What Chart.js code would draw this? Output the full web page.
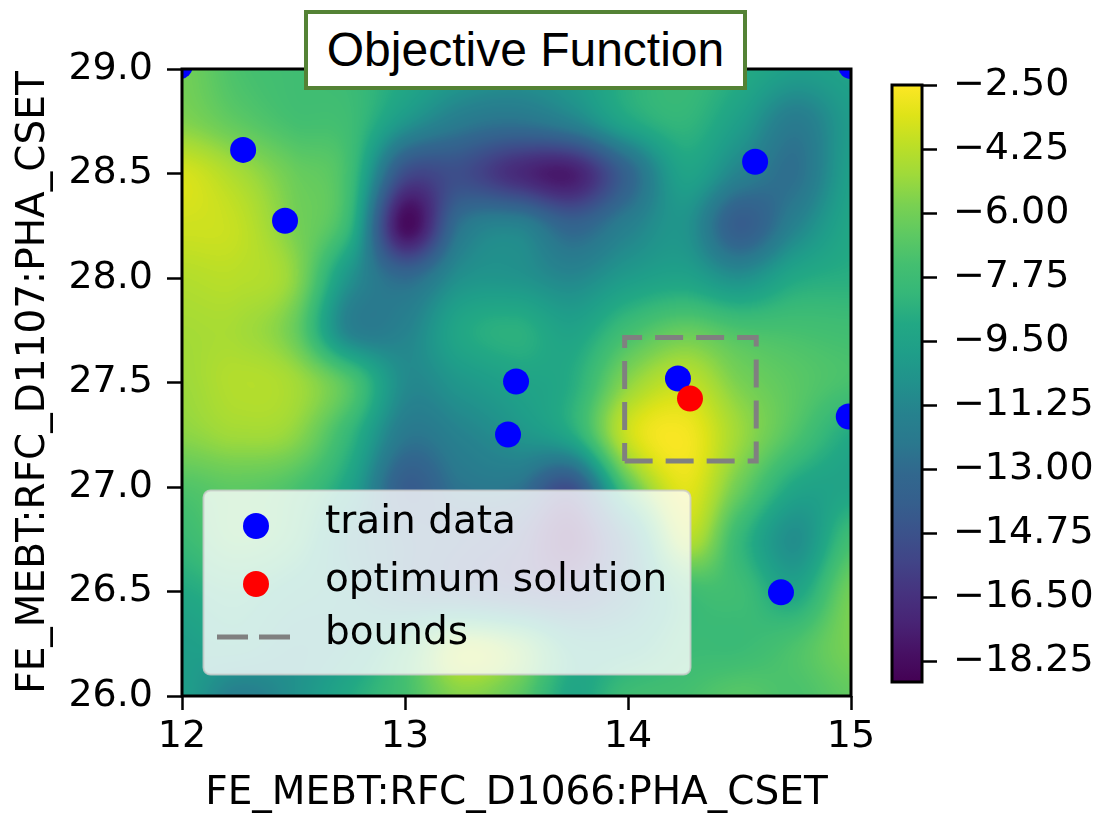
<!DOCTYPE html>
<html>
<head>
<meta charset="utf-8">
<title>Objective Function</title>
<script src="https://cdn.jsdelivr.net/npm/chart.js@4.4.1/dist/chart.umd.min.js"></script>
<style>
  html, body { margin: 0; padding: 0; background: #ffffff; overflow: hidden; }
  #wrap { position: relative; width: 1097px; height: 817px; background: #ffffff; overflow: hidden; }
  #wrap canvas { position: absolute; left: 0; top: 0; }
  #title {
    position: absolute; left: 304px; top: 10px; width: 435px; height: 72px;
    border: 4px solid #548235; background: #ffffff; color: #000000;
    font-family: "Liberation Sans", Arial, sans-serif; font-size: 48px;
    line-height: 72px; text-align: center; white-space: nowrap;
  }
</style>
</head>
<body>
<div id="wrap">
  <canvas id="plot" width="1097" height="817"></canvas>
  <canvas id="cbar" width="1097" height="817"></canvas>
  <div id="title">Objective Function</div>
</div>
<script>
// ---- axis ticks and labels ----
const xTickValues = [12, 13, 14, 15];
const yTickValues = [26.0, 26.5, 27.0, 27.5, 28.0, 28.5, 29.0];
const xTitle = 'FE_MEBT:RFC_D1066:PHA_CSET';
const yTitle = 'FE_MEBT:RFC_D1107:PHA_CSET';

// ---- colour bar range and ticks ----
const cbMin = -18.82;
const cbMax = -2.50;
const cbTickValues = [-2.50, -4.25, -6.00, -7.75, -9.50, -11.25, -13.00, -14.75, -16.50, -18.25];

// ---- samples ----
const trainX = [11.99, 15.00, 12.274, 12.462, 14.570, 13.498, 13.462, 14.224, 14.99, 14.686];
const trainY = [29.014, 29.014, 28.613, 28.274, 28.556, 27.505, 27.251, 27.519, 27.337, 26.496];
const optX = [14.278];
const optY = [27.423];
const boundsX = [13.985, 14.575];
const boundsY = [27.125, 27.715];

// ---- objective function surface on a regular grid (rows from top y=29 to bottom y=26) ----
const fieldX = [12.0, 12.25, 12.5, 12.75, 13.0, 13.25, 13.5, 13.75, 14.0, 14.25, 14.5, 14.75, 15.0];
const fieldY = [29.0, 28.75, 28.5, 28.25, 28.0, 27.75, 27.5, 27.25, 27.0, 26.75, 26.5, 26.25, 26.0];
const fieldZ = [
  [-6.0, -7.2, -7.6, -7.9, -9.0, -10.0, -10.5, -10.0, -8.6, -8.0, -8.8, -9.8, -9.5],
  [-5.6, -6.6, -7.4, -7.7, -10.3, -12.0, -12.5, -11.5, -9.2, -8.3, -9.8, -12.0, -10.0],
  [-3.5, -4.7, -6.2, -7.6, -15.0, -15.0, -16.8, -17.5, -13.5, -9.5, -11.5, -12.7, -9.7],
  [-3.7, -4.0, -5.8, -8.2, -18.3, -12.5, -11.5, -13.5, -11.7, -10.5, -14.0, -11.5, -9.2],
  [-4.4, -4.3, -5.3, -10.5, -13.0, -10.7, -10.5, -11.2, -10.0, -9.5, -10.7, -9.1, -8.7],
  [-4.8, -4.8, -6.2, -11.5, -11.5, -9.2, -8.6, -9.5, -7.6, -6.4, -7.2, -7.4, -7.6],
  [-5.0, -4.4, -4.8, -7.0, -11.0, -10.3, -9.5, -8.8, -5.4, -4.0, -5.8, -6.7, -7.3],
  [-5.4, -4.9, -5.3, -8.2, -12.2, -11.5, -10.5, -9.0, -3.8, -2.7, -5.0, -7.1, -9.0],
  [-7.0, -6.6, -7.2, -9.5, -14.0, -12.5, -12.5, -14.8, -7.0, -3.2, -6.2, -9.2, -9.4],
  [-7.9, -6.8, -7.8, -11.0, -13.0, -14.0, -15.0, -17.5, -12.0, -4.5, -8.1, -10.8, -7.6],
  [-9.0, -8.5, -9.5, -10.5, -12.5, -13.5, -14.5, -15.0, -12.0, -8.0, -7.7, -9.3, -6.0],
  [-9.8, -9.5, -10.5, -10.0, -8.0, -4.8, -6.0, -9.5, -9.5, -8.0, -7.9, -7.2, -5.8],
  [-9.8, -11.7, -10.7, -9.0, -7.4, -5.5, -6.5, -9.2, -7.7, -7.4, -6.8, -7.2, -6.5]
];

// ---- viridis colour map ----
const VIRIDIS = ['#440154', '#471164', '#482475', '#46337f', '#414487', '#3b528b', '#355f8d',
  '#31688e', '#2a788e', '#26828e', '#21918c', '#1f9e89', '#22a884', '#35b779', '#44bf70',
  '#5ec962', '#7ad151', '#9fda3a', '#bddf26', '#dfe318', '#fde725'];

const LUT = (function () {
  const rgb = VIRIDIS.map(h => [parseInt(h.slice(1, 3), 16), parseInt(h.slice(3, 5), 16), parseInt(h.slice(5, 7), 16)]);
  const out = new Uint8ClampedArray(256 * 3);
  const n = rgb.length - 1;
  for (let i = 0; i < 256; i++) {
    const t = i / 255 * n;
    const k = Math.min(Math.floor(t), n - 1);
    const f = t - k;
    for (let c = 0; c < 3; c++) out[i * 3 + c] = Math.round(rgb[k][c] + (rgb[k + 1][c] - rgb[k][c]) * f);
  }
  return out;
})();

function catmull(p0, p1, p2, p3, t) {
  return p1 + 0.5 * t * (p2 - p0 + t * (2 * p0 - 5 * p1 + 4 * p2 - p3 + t * (3 * (p1 - p2) + p3 - p0)));
}

function sampleField(gx, gy) {
  const nx = fieldX.length, ny = fieldY.length;
  const cx = i => Math.max(0, Math.min(nx - 1, i));
  const cy = j => Math.max(0, Math.min(ny - 1, j));
  const ix = Math.floor(gx), iy = Math.floor(gy);
  const tx = gx - ix, ty = gy - iy;
  const col = [];
  for (let m = -1; m <= 2; m++) {
    const r = fieldZ[cy(iy + m)];
    col.push(catmull(r[cx(ix - 1)], r[cx(ix)], r[cx(ix + 1)], r[cx(ix + 2)], tx));
  }
  return catmull(col[0], col[1], col[2], col[3], ty);
}

// Shaded surface behind the markers, placed through the chart's own scales
const surfacePlugin = {
  id: 'surface',
  beforeDatasetsDraw(chart) {
    const { ctx, chartArea: a, scales } = chart;
    const xs = scales.x, ys = scales.y;
    const w = Math.round(a.right - a.left), h = Math.round(a.bottom - a.top);
    const nx = fieldX.length, ny = fieldY.length;
    const gxs = new Float64Array(w), gys = new Float64Array(h);
    for (let i = 0; i < w; i++) {
      const v = xs.getValueForPixel(a.left + i + 0.5);
      gxs[i] = (v - fieldX[0]) / (fieldX[nx - 1] - fieldX[0]) * (nx - 1);
    }
    for (let j = 0; j < h; j++) {
      const v = ys.getValueForPixel(a.top + j + 0.5);
      gys[j] = (v - fieldY[0]) / (fieldY[ny - 1] - fieldY[0]) * (ny - 1);
    }
    const off = document.createElement('canvas');
    off.width = w; off.height = h;
    const octx = off.getContext('2d');
    const img = octx.createImageData(w, h);
    const d = img.data;
    for (let j = 0; j < h; j++) {
      for (let i = 0; i < w; i++) {
        const z = sampleField(gxs[i], gys[j]);
        let t = (z - cbMin) / (cbMax - cbMin);
        t = Math.max(0, Math.min(1, t));
        const k = Math.round(t * 255) * 3;
        const p = (j * w + i) * 4;
        d[p] = LUT[k]; d[p + 1] = LUT[k + 1]; d[p + 2] = LUT[k + 2]; d[p + 3] = 255;
      }
    }
    octx.putImageData(img, 0, 0);
    ctx.save();
    ctx.drawImage(off, a.left, a.top);
    ctx.restore();
  }
};

// Black frame around the plotting area
const framePlugin = {
  id: 'frame',
  afterDraw(chart) {
    const { ctx, chartArea: a } = chart;
    ctx.save();
    ctx.strokeStyle = '#000000';
    ctx.lineWidth = 3;
    ctx.strokeRect(a.left, a.top, a.right - a.left, a.bottom - a.top);
    ctx.restore();
  }
};

// Legend box drawn inside the plotting area from the dataset styles
const insetLegend = {
  id: 'insetLegend',
  afterDatasetsDraw(chart) {
    const ctx = chart.ctx;
    const ds = chart.data.datasets;
    const box = { x: 203.5, y: 490.5, w: 487, h: 184, r: 7 };
    ctx.save();
    ctx.beginPath();
    ctx.roundRect(box.x, box.y, box.w, box.h, box.r);
    ctx.fillStyle = 'rgba(255,255,255,0.8)';
    ctx.fill();
    ctx.lineWidth = 2;
    ctx.strokeStyle = 'rgba(204,204,204,0.8)';
    ctx.stroke();

    const entries = [ds[1], ds[0], ds[2]];
    const rowY = [526, 584, 637];
    const textX = 325;
    entries.forEach((e, i) => {
      const yc = rowY[i];
      if (e.showLine) {
        ctx.beginPath();
        ctx.setLineDash([31, 11]);
        ctx.lineWidth = e.borderWidth;
        ctx.strokeStyle = e.borderColor;
        ctx.moveTo(217, yc);
        ctx.lineTo(290, yc);
        ctx.stroke();
        ctx.setLineDash([]);
      } else {
        ctx.beginPath();
        ctx.arc(256, yc, e.pointRadius, 0, Math.PI * 2);
        ctx.fillStyle = e.backgroundColor;
        ctx.fill();
      }
      ctx.fillStyle = '#000000';
      ctx.font = '39px "DejaVu Sans"';
      ctx.textAlign = 'left';
      ctx.textBaseline = 'middle';
      ctx.fillText(e.label, textX, yc - 3);
    });
    ctx.restore();
  }
};

Chart.defaults.font.family = '"DejaVu Sans", sans-serif';
Chart.defaults.color = '#000000';

const rectPath = [
  { x: boundsX[0], y: boundsY[0] },
  { x: boundsX[1], y: boundsY[0] },
  { x: boundsX[1], y: boundsY[1] },
  { x: boundsX[0], y: boundsY[1] },
  { x: boundsX[0], y: boundsY[0] }
];

new Chart(document.getElementById('plot'), {
  type: 'scatter',
  data: {
    datasets: [
      {
        label: 'optimum solution',
        data: optX.map((x, i) => ({ x, y: optY[i] })),
        backgroundColor: '#ff0000', borderColor: '#ff0000', borderWidth: 0,
        pointRadius: 13, pointHoverRadius: 13, clip: 0
      },
      {
        label: 'train data',
        data: trainX.map((x, i) => ({ x, y: trainY[i] })),
        backgroundColor: '#0000ff', borderColor: '#0000ff', borderWidth: 0,
        pointRadius: 13, pointHoverRadius: 13, clip: 0
      },
      {
        label: 'bounds',
        data: rectPath,
        showLine: true, fill: false, tension: 0,
        borderColor: '#808080', borderWidth: 5, borderDash: [28, 13],
        borderCapStyle: 'butt', borderJoinStyle: 'miter',
        pointRadius: 0, pointHoverRadius: 0, clip: 0
      }
    ]
  },
  options: {
    responsive: false,
    animation: false,
    devicePixelRatio: 1,
    events: [],
    layout: { padding: { top: 69, right: 246, left: 0, bottom: 0 } },
    plugins: { legend: { display: false }, tooltip: { enabled: false } },
    scales: {
      x: {
        type: 'linear', position: 'bottom', min: 12, max: 15,
        afterBuildTicks: s => { s.ticks = xTickValues.map(v => ({ value: v })); },
        afterFit: s => { s.height = 121; },
        ticks: { font: { size: 38 }, color: '#000000', padding: 4, maxRotation: 0, autoSkip: false, callback: v => String(v) },
        grid: { drawOnChartArea: false, drawTicks: true, tickLength: 14, tickWidth: 2.5, tickColor: '#000000' },
        border: { display: false },
        title: { display: true, text: xTitle, font: { size: 39 }, color: '#000000', padding: { top: 0, bottom: 0 } }
      },
      y: {
        type: 'linear', position: 'left', min: 26, max: 29,
        afterBuildTicks: s => { s.ticks = yTickValues.map(v => ({ value: v })); },
        afterFit: s => { s.width = 182; },
        ticks: { font: { size: 38 }, color: '#000000', padding: 14, autoSkip: false, callback: v => Number(v).toFixed(1) },
        grid: { drawOnChartArea: false, drawTicks: true, tickLength: 15, tickWidth: 2.5, tickColor: '#000000' },
        border: { display: false },
        title: { display: true, text: yTitle, font: { size: 39 }, color: '#000000', padding: { top: 10, bottom: 0 } }
      }
    }
  },
  plugins: [surfacePlugin, insetLegend, framePlugin]
});

// Colour bar: one floating bar spanning the value range, filled with the colour map
const cbarFrame = {
  id: 'cbarFrame',
  afterDraw(chart) {
    const { ctx, chartArea: a } = chart;
    ctx.save();
    ctx.strokeStyle = '#000000';
    ctx.lineWidth = 3;
    ctx.strokeRect(a.left, a.top, a.right - a.left, a.bottom - a.top);
    ctx.restore();
  }
};

new Chart(document.getElementById('cbar'), {
  type: 'bar',
  data: {
    labels: [''],
    datasets: [{
      data: [[cbMin, cbMax]],
      borderWidth: 0,
      barPercentage: 1,
      categoryPercentage: 1,
      backgroundColor: c => {
        const ch = c.chart;
        if (!ch.chartArea) return VIRIDIS[10];
        const ys = ch.scales.y;
        const g = ch.ctx.createLinearGradient(0, ys.getPixelForValue(cbMin), 0, ys.getPixelForValue(cbMax));
        VIRIDIS.forEach((col, i) => g.addColorStop(i / (VIRIDIS.length - 1), col));
        return g;
      }
    }]
  },
  options: {
    responsive: false,
    animation: false,
    devicePixelRatio: 1,
    events: [],
    layout: { padding: { left: 892, top: 85, bottom: 135, right: 0 } },
    plugins: { legend: { display: false }, tooltip: { enabled: false } },
    scales: {
      x: { display: false },
      y: {
        position: 'right', min: cbMin, max: cbMax,
        afterBuildTicks: s => { s.ticks = cbTickValues.map(v => ({ value: v })); },
        afterFit: s => { s.width = 175; },
        ticks: { font: { size: 38 }, color: '#000000', padding: 16, autoSkip: false, callback: v => '\u2212' + Math.abs(v).toFixed(2) },
        grid: { drawOnChartArea: false, drawTicks: true, tickLength: 15, tickWidth: 2.5, tickColor: '#000000' },
        border: { display: false }
      }
    }
  },
  plugins: [cbarFrame]
});
</script>
</body>
</html>
